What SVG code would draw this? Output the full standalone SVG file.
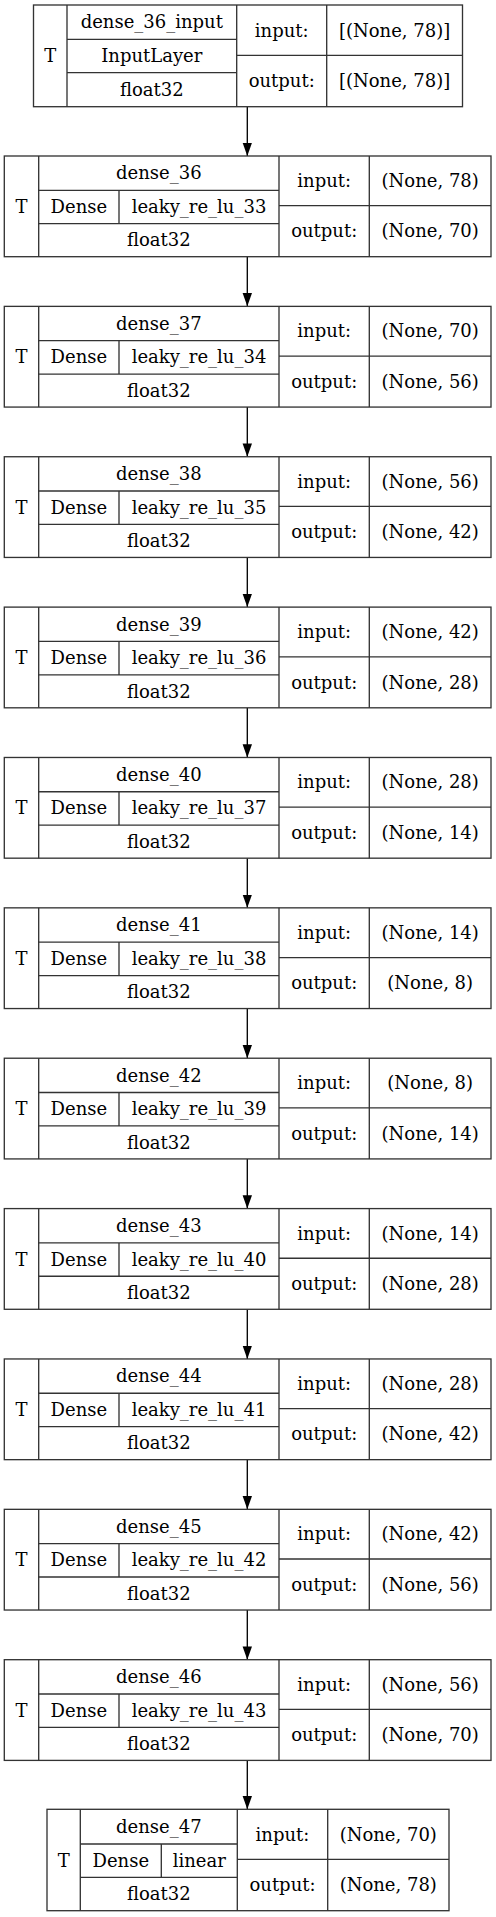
<svg xmlns="http://www.w3.org/2000/svg" width="496" height="1917" viewBox="0 0 496 1917">
<style>
.b{fill:#fff;stroke:#333;stroke-width:1.33}
.l{stroke:#333;stroke-width:1.33;fill:none}
text{font-family:"DejaVu Serif",serif;font-size:18px;text-anchor:middle;fill:#000}
.e{stroke:#000;stroke-width:1.33;fill:none}
</style>
<defs>
<marker id="ah" markerUnits="userSpaceOnUse" markerWidth="14" markerHeight="10" refX="13.3" refY="4.7" orient="auto">
<path d="M0,0 L13.3,4.7 L0,9.4 z" fill="#000"/>
</marker>
<g id="mid">
<rect class="b" x="4.3" y="0" width="486.7" height="100.7"/>
<path class="l" d="M38.7,0V100.7M279,0V100.7M369.3,0V100.7M38.7,34.3H279M38.7,67.7H279M119,34.3V67.7M279,49.7H491"/>
<text x="21.5" y="57">T</text>
<text x="78.9" y="57">Dense</text>
<text x="158.8" y="90.4">float32</text>
<text x="324.2" y="31">input:</text>
<text x="324.2" y="81.4">output:</text>
</g>
</defs>
<g id="connectors">
<path class="e" marker-end="url(#ah)" d="M247.3,106.7V156"/>
<path class="e" marker-end="url(#ah)" d="M247.3,256.7V306.37"/>
<path class="e" marker-end="url(#ah)" d="M247.3,407.07V456.74"/>
<path class="e" marker-end="url(#ah)" d="M247.3,557.44V607.11"/>
<path class="e" marker-end="url(#ah)" d="M247.3,707.81V757.48"/>
<path class="e" marker-end="url(#ah)" d="M247.3,858.18V907.85"/>
<path class="e" marker-end="url(#ah)" d="M247.3,1008.55V1058.22"/>
<path class="e" marker-end="url(#ah)" d="M247.3,1158.92V1208.59"/>
<path class="e" marker-end="url(#ah)" d="M247.3,1309.29V1358.96"/>
<path class="e" marker-end="url(#ah)" d="M247.3,1459.66V1509.33"/>
<path class="e" marker-end="url(#ah)" d="M247.3,1610.03V1659.7"/>
<path class="e" marker-end="url(#ah)" d="M247.3,1760.4V1809.3"/>
</g>
<g id="dense_36_input">
<rect class="b" x="33.5" y="5" width="429" height="101.7"/>
<path class="l" d="M67,5V106.7M236.7,5V106.7M326.7,5V106.7M67,39.3H236.7M67,72.7H236.7M236.7,55.3H462.5"/>
<text x="50.3" y="62.3">T</text>
<text x="151.8" y="28.4">dense_36_input</text>
<text x="151.8" y="62.3">InputLayer</text>
<text x="151.8" y="96">float32</text>
<text x="281.7" y="36.5">input:</text>
<text x="394.6" y="36.5">[(None, 78)]</text>
<text x="281.7" y="87.3">output:</text>
<text x="394.6" y="87.3">[(None, 78)]</text>
</g>
<g id="dense_36" transform="translate(0,156)"><use href="#mid"/><text x="158.8" y="23.4">dense_36</text><text x="199" y="57">leaky_re_lu_33</text><text x="430.2" y="31">(None, 78)</text><text x="430.2" y="81.4">(None, 70)</text></g>
<g id="dense_37" transform="translate(0,306.37)"><use href="#mid"/><text x="158.8" y="23.4">dense_37</text><text x="199" y="57">leaky_re_lu_34</text><text x="430.2" y="31">(None, 70)</text><text x="430.2" y="81.4">(None, 56)</text></g>
<g id="dense_38" transform="translate(0,456.74)"><use href="#mid"/><text x="158.8" y="23.4">dense_38</text><text x="199" y="57">leaky_re_lu_35</text><text x="430.2" y="31">(None, 56)</text><text x="430.2" y="81.4">(None, 42)</text></g>
<g id="dense_39" transform="translate(0,607.11)"><use href="#mid"/><text x="158.8" y="23.4">dense_39</text><text x="199" y="57">leaky_re_lu_36</text><text x="430.2" y="31">(None, 42)</text><text x="430.2" y="81.4">(None, 28)</text></g>
<g id="dense_40" transform="translate(0,757.48)"><use href="#mid"/><text x="158.8" y="23.4">dense_40</text><text x="199" y="57">leaky_re_lu_37</text><text x="430.2" y="31">(None, 28)</text><text x="430.2" y="81.4">(None, 14)</text></g>
<g id="dense_41" transform="translate(0,907.85)"><use href="#mid"/><text x="158.8" y="23.4">dense_41</text><text x="199" y="57">leaky_re_lu_38</text><text x="430.2" y="31">(None, 14)</text><text x="430.2" y="81.4">(None, 8)</text></g>
<g id="dense_42" transform="translate(0,1058.22)"><use href="#mid"/><text x="158.8" y="23.4">dense_42</text><text x="199" y="57">leaky_re_lu_39</text><text x="430.2" y="31">(None, 8)</text><text x="430.2" y="81.4">(None, 14)</text></g>
<g id="dense_43" transform="translate(0,1208.59)"><use href="#mid"/><text x="158.8" y="23.4">dense_43</text><text x="199" y="57">leaky_re_lu_40</text><text x="430.2" y="31">(None, 14)</text><text x="430.2" y="81.4">(None, 28)</text></g>
<g id="dense_44" transform="translate(0,1358.96)"><use href="#mid"/><text x="158.8" y="23.4">dense_44</text><text x="199" y="57">leaky_re_lu_41</text><text x="430.2" y="31">(None, 28)</text><text x="430.2" y="81.4">(None, 42)</text></g>
<g id="dense_45" transform="translate(0,1509.33)"><use href="#mid"/><text x="158.8" y="23.4">dense_45</text><text x="199" y="57">leaky_re_lu_42</text><text x="430.2" y="31">(None, 42)</text><text x="430.2" y="81.4">(None, 56)</text></g>
<g id="dense_46" transform="translate(0,1659.7)"><use href="#mid"/><text x="158.8" y="23.4">dense_46</text><text x="199" y="57">leaky_re_lu_43</text><text x="430.2" y="31">(None, 56)</text><text x="430.2" y="81.4">(None, 70)</text></g>
<g id="dense_47" transform="translate(0,1809.3)">
<rect class="b" x="47" y="0" width="402" height="101.4"/>
<path class="l" d="M80.3,0V101.4M237.3,0V101.4M327.7,0V101.4M80.3,34.7H237.3M80.3,68H237.3M161.3,34.7V68M237.3,50H449"/>
<text x="63.7" y="57.3">T</text>
<text x="158.8" y="23.8">dense_47</text>
<text x="120.8" y="57.6">Dense</text>
<text x="199.3" y="57.6">linear</text>
<text x="158.8" y="91.2">float32</text>
<text x="282.5" y="31.5">input:</text>
<text x="388.3" y="31.5">(None, 70)</text>
<text x="282.5" y="82.2">output:</text>
<text x="388.3" y="82.2">(None, 78)</text>
</g>
</svg>
